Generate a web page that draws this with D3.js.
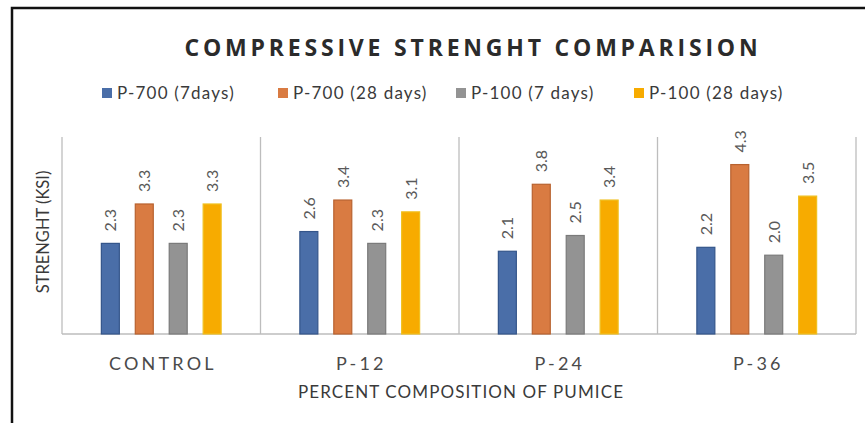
<!DOCTYPE html>
<html><head><meta charset="utf-8">
<script src="https://cdn.jsdelivr.net/npm/d3@7"></script>
<style>body{margin:0;background:#fff;}svg{display:block;}</style>
</head><body>
<script>
const categories = ["CONTROL", "P-12", "P-24", "P-36"];
const seriesNames = ["P-700 (7days)", "P-700 (28 days)", "P-100 (7 days)", "P-100 (28 days)"];
const p700_7 = [2.3, 2.6, 2.1, 2.2];
const p700_28 = [3.3, 3.4, 3.8, 4.3];
const p100_7 = [2.3, 2.3, 2.5, 2.0];
const p100_28 = [3.3, 3.1, 3.4, 3.5];
const seriesValues = [p700_7, p700_28, p100_7, p100_28];
const colors = ["#4a6ea8", "#d97b42", "#939393", "#f7ab00"];
const strokes = ["#34558a", "#b8622f", "#7a7a7a", "#f0c020"];
const yDomain = [0, 5];

const W = 865, H = 423;
const svg = d3.select("body").append("svg").attr("width", W).attr("height", H);
svg.append("rect").attr("width", W).attr("height", H).attr("fill", "#fff");
// frame
svg.append("path").attr("d", `M12,${H} L12,8 L${W},8`).attr("fill","none").attr("stroke","#111").attr("stroke-width",2.5);

const m = {left: 62, right: 856, top: 137, bottom: 334};
const x0 = d3.scaleBand().domain(categories).range([m.left, m.right]).paddingInner(0).paddingOuter(0);
const x1 = d3.scaleBand().domain(d3.range(4)).range([0, x0.bandwidth()]).paddingInner(0.47).paddingOuter(1.16);
const y = d3.scaleLinear().domain(yDomain).range([m.bottom, m.top]);

// title
svg.append("text").attr("x", 473).attr("y", 56).attr("text-anchor","middle")
  .attr("font-family","Open Sans").attr("font-weight","bold").attr("font-size",23)
  .attr("letter-spacing",3.8).attr("fill","#2b2b2b").text("COMPRESSIVE STRENGHT COMPARISION");

// legend
const legX = [102, 278, 456, 634];
seriesNames.forEach((n,i)=>{
  const g = svg.append("g").attr("transform",`translate(${legX[i]},93)`);
  g.append("rect").attr("x",0).attr("y",-5).attr("width",10).attr("height",10).attr("fill",colors[i]);
  g.append("text").attr("x",15).attr("y",6).attr("font-family","Lato").attr("font-size",17)
   .attr("letter-spacing",1.2).attr("fill","#3a3a3a").text(n);
});

// axis lines
const grid = svg.append("g").attr("stroke","#bdbdbd").attr("stroke-width",1.3);
grid.append("line").attr("x1",m.left).attr("x2",m.left).attr("y1",m.top).attr("y2",m.bottom);
categories.forEach(c=>{
  const xe = x0(c)+x0.bandwidth();
  grid.append("line").attr("x1",xe).attr("x2",xe).attr("y1",m.top).attr("y2",m.bottom);
});
grid.append("line").attr("x1",m.left).attr("x2",m.right).attr("y1",m.bottom).attr("y2",m.bottom);

// bars
categories.forEach((c,ci)=>{
  seriesValues.forEach((vals,si)=>{
    const v = vals[ci];
    const bx = x0(c)+x1(si);
    svg.append("rect").attr("x",bx).attr("y",y(v)).attr("width",x1.bandwidth())
      .attr("height",m.bottom - y(v)).attr("fill",colors[si])
      .attr("stroke",strokes[si]).attr("stroke-width",1.2);
    const lx = bx + x1.bandwidth()/2 + 6, ly = y(v) - 12;
    svg.append("text").attr("transform",`translate(${lx},${ly}) rotate(-90)`)
      .attr("font-family","Lato").attr("font-size",16).attr("fill","#595959")
      .text(v.toFixed(1));
  });
  svg.append("text").attr("x", x0(c)+x0.bandwidth()/2 + 1.6).attr("y",370).attr("text-anchor","middle")
    .attr("font-family","Lato").attr("font-size",18).attr("letter-spacing",3.2).attr("fill","#4a4a4a").text(c);
});

// axis titles
svg.append("text").attr("transform","translate(49,232) rotate(-90)").attr("text-anchor","middle")
  .attr("font-family","Lato").attr("font-size",16.5).attr("fill","#3a3a3a").text("STRENGHT (KSI)");
svg.append("text").attr("x",461).attr("y",398).attr("text-anchor","middle")
  .attr("font-family","Lato").attr("font-size",17).attr("letter-spacing",1.1).attr("fill","#3a3a3a").text("PERCENT COMPOSITION OF PUMICE");
</script>
</body></html>
